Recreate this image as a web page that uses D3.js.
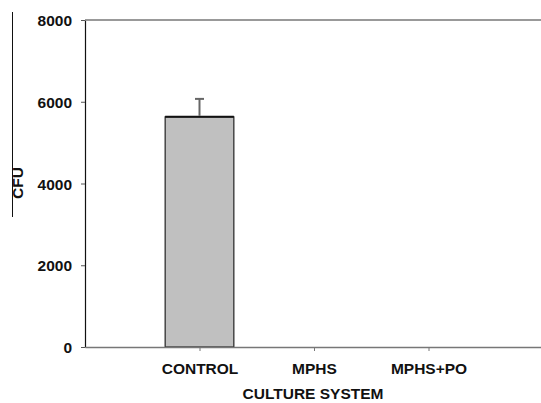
<!DOCTYPE html>
<html>
<head>
  <script src="https://d3js.org/d3.v7.min.js"></script>
  <style>
    body { margin: 0; background: #fff; }
    .chart text { font-family: "Liberation Sans", Arial, sans-serif; font-weight: bold; fill: #111; }
    .tick-label { font-size: 15.5px; }
    .axis-label { font-size: 15.5px; }
  </style>
</head>
<body>
  <div id="chart"></div>

  <script>
    const categories = ["CONTROL", "MPHS", "MPHS+PO"];
    const cfu = [5630, 0, 0];
    const cfuErr = [440, 0, 0];
    const yTicks = [0, 2000, 4000, 6000, 8000];

    const data = categories.map((c, i) => ({ name: c, value: cfu[i], err: cfuErr[i] }));

    const W = 541, H = 403;
    const margin = { top: 20, right: -2, bottom: 56, left: 85 };
    const width = W - margin.left - margin.right,
          height = H - margin.top - margin.bottom;

    const svg = d3.select("#chart")
      .append("svg")
        .attr("class", "chart")
        .attr("width", W)
        .attr("height", H);

    const g = svg.append("g")
      .attr("transform", `translate(${margin.left},${margin.top})`);

    const x = d3.scalePoint()
      .domain(categories)
      .range([0, width])
      .padding(1);

    const y = d3.scaleLinear()
      .domain([0, 8000])
      .range([height, 0]);

    const barW = x.step() * 0.6;

    // bars
    g.selectAll("rect.bar")
      .data(data.filter(d => d.value > 0))
      .enter().append("rect")
        .attr("class", "bar")
        .attr("x", d => x(d.name) - barW / 2)
        .attr("y", d => y(d.value))
        .attr("width", barW)
        .attr("height", d => y(0) - y(d.value))
        .attr("fill", "#c0c0c0")
        .attr("stroke", "#222")
        .attr("stroke-width", 1.2);

    // top edge of bar a bit heavier
    g.selectAll("line.bartop")
      .data(data.filter(d => d.value > 0))
      .enter().append("line")
        .attr("x1", d => x(d.name) - barW / 2)
        .attr("x2", d => x(d.name) + barW / 2)
        .attr("y1", d => y(d.value))
        .attr("y2", d => y(d.value))
        .attr("stroke", "#111")
        .attr("stroke-width", 2);

    // error bars (upper only)
    const errG = g.selectAll("g.err")
      .data(data.filter(d => d.err > 0))
      .enter().append("g")
        .attr("stroke", "#666")
        .attr("stroke-width", 2);
    errG.append("line")
      .attr("x1", d => x(d.name)).attr("x2", d => x(d.name))
      .attr("y1", d => y(d.value) - 1).attr("y2", d => y(d.value + d.err));
    errG.append("line")
      .attr("x1", d => x(d.name) - 4.5).attr("x2", d => x(d.name) + 4.5)
      .attr("y1", d => y(d.value + d.err)).attr("y2", d => y(d.value + d.err));

    // Y axis
    const yAxis = g.append("g")
      .call(d3.axisLeft(y).tickValues(yTicks).tickSize(4).tickSizeOuter(0).tickPadding(9).tickFormat(d3.format("d")));
    yAxis.select(".domain").attr("stroke", "#111").attr("stroke-width", 1.2);
    yAxis.selectAll(".tick line").attr("stroke", "#555");
    yAxis.selectAll(".tick text").attr("class", "tick-label").attr("dy", "0.36em");

    // X axis
    const xAxis = g.append("g")
      .attr("transform", `translate(0,${height})`)
      .call(d3.axisBottom(x).tickSize(4).tickSizeOuter(0).tickPadding(12));
    xAxis.select(".domain").attr("stroke", "#777").attr("stroke-width", 1.5);
    xAxis.selectAll(".tick line").attr("stroke", "#777");
    xAxis.selectAll(".tick text").attr("class", "tick-label");

    // top frame line
    g.append("line")
      .attr("x1", 0).attr("x2", width)
      .attr("y1", 0).attr("y2", 0)
      .attr("stroke", "#777")
      .attr("stroke-width", 1.5);

    // axis labels
    svg.append("text")
      .attr("class", "axis-label")
      .attr("text-anchor", "middle")
      .attr("x", 313)
      .attr("y", 399)
      .text("CULTURE SYSTEM");

    svg.append("text")
      .attr("class", "axis-label")
      .attr("text-anchor", "middle")
      .attr("transform", "translate(23,183) rotate(-90)")
      .text("CFU");

    // stray vertical rule at far left
    svg.append("line")
      .attr("x1", 12.5).attr("x2", 12.5)
      .attr("y1", 12).attr("y2", 217)
      .attr("stroke", "#111")
      .attr("stroke-width", 1);
  </script>
</body>
</html>
